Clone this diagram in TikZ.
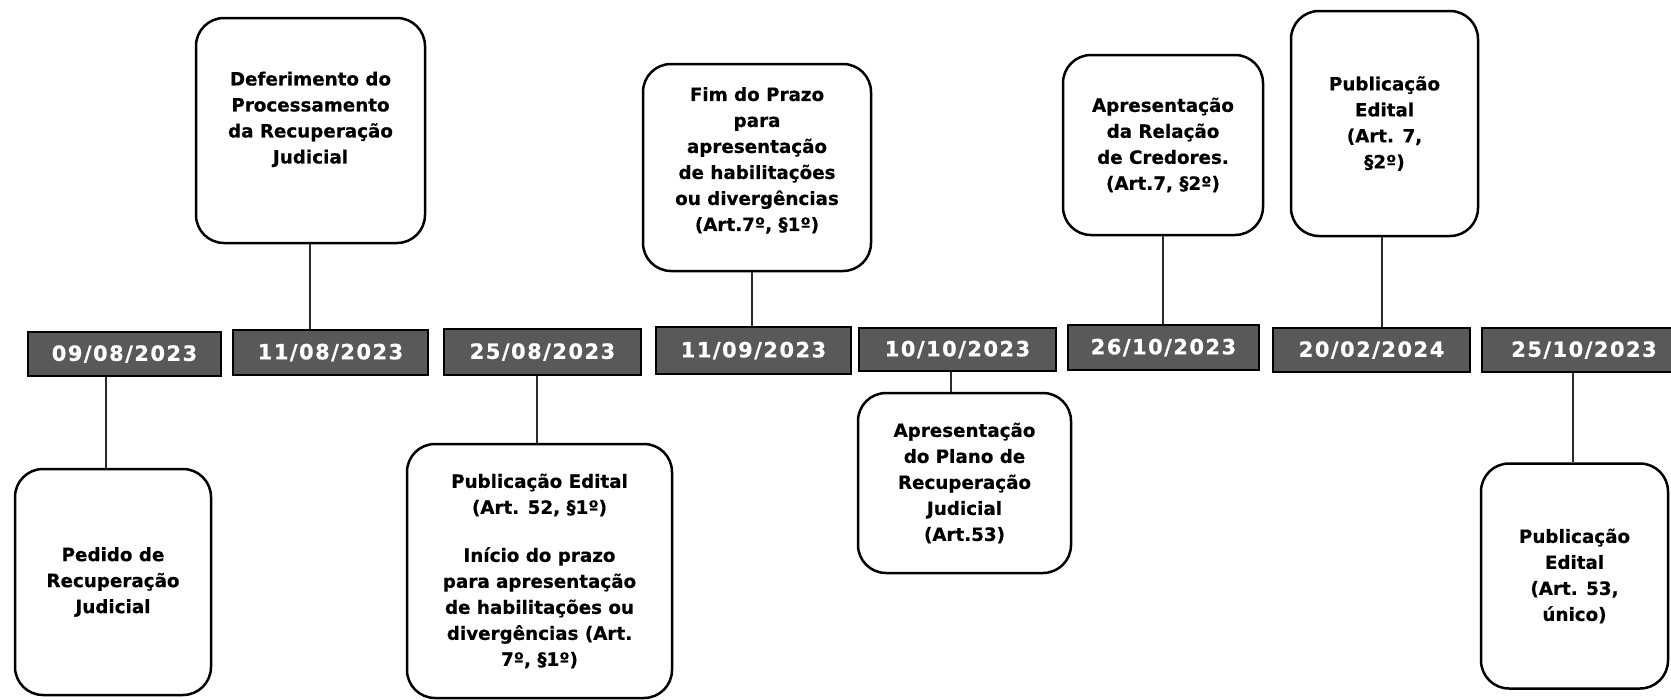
\documentclass[tikz,border=0pt]{standalone}
\usepackage{fontspec}
\setmainfont{DejaVu Sans}[BoldFeatures={FakeBold=0.5}]
\newfontfamily\datefont{DejaVu Sans}[LetterSpace=7,BoldFeatures={FakeBold=0.5}]
\definecolor{dategray}{HTML}{595959}
\definecolor{linegray}{HTML}{2B2B2B}
\begin{document}
\begin{tikzpicture}[x=1pt,y=-1pt,
  datebox/.style={draw=black, line width=2.2pt, fill=dategray, text=white,
    inner sep=0pt, font=\datefont\bfseries\fontsize{21}{25}\selectfont},
  eventbox/.style={draw=black, line width=2.5pt, fill=white, rounded corners=28pt,
    inner sep=0pt, align=center, font=\bfseries\fontsize{18.3}{26}\selectfont},
  conn/.style={draw=linegray, line width=1.3pt}]
\useasboundingbox (0,0) rectangle (1671,699);

% date boxes
\node[datebox, minimum width=193pt, minimum height=44pt] (d1) at (124.5,354) {09/08/2023};
\node[datebox, minimum width=195pt, minimum height=45pt] (d2) at (330.5,352.5) {11/08/2023};
\node[datebox, minimum width=197pt, minimum height=46pt] (d3) at (542.5,352) {25/08/2023};
\node[datebox, minimum width=195pt, minimum height=47pt] (d4) at (753.5,350.5) {11/09/2023};
\node[datebox, minimum width=197pt, minimum height=43pt] (d5) at (957.5,349.5) {10/10/2023};
\node[datebox, minimum width=191pt, minimum height=45pt] (d6) at (1163.5,347.5) {26/10/2023};
\node[datebox, minimum width=197pt, minimum height=44pt] (d7) at (1371.5,350) {20/02/2024};
\node[datebox, minimum width=204pt, minimum height=44pt] (d8) at (1584,350) {25/10/2023};

% event boxes
\node[eventbox, minimum width=196pt, minimum height=226pt] (ped) at (113,582)
  {Pedido de\\Recuperação\\Judicial};
\node[eventbox, minimum width=229pt, minimum height=225pt] (def) at (310.5,130.5)
  {Deferimento do\\Processamento\\da Recuperação\\Judicial\\~};
\node[eventbox, minimum width=265pt, minimum height=254pt] (p25) at (539.5,571)
  {Publicação Edital\\(Art. 52, §1º)\\[22pt]Início do prazo\\para apresentação\\de habilitações ou\\divergências (Art.\\7º, §1º)};
\node[eventbox, minimum width=228pt, minimum height=207pt] (fim) at (757,167.5)
  {Fim do Prazo\\para\\apresentação\\de habilitações\\ou divergências\\(Art.7º, §1º)\\[-9pt]~};
\node[eventbox, minimum width=213pt, minimum height=180pt] (pla) at (964.5,483)
  {Apresentação\\do Plano de\\Recuperação\\Judicial\\(Art.53)};
\node[eventbox, minimum width=200pt, minimum height=180pt] (rel) at (1163,145)
  {Apresentação\\da Relação\\de Credores.\\(Art.7, §2º)};
\node[eventbox, minimum width=187pt, minimum height=225pt] (p7) at (1384.5,123.5)
  {Publicação\\Edital\\(Art. 7,\\§2º)};
\node[eventbox, minimum width=187pt, minimum height=225pt] (p53) at (1574.5,576)
  {Publicação\\Edital\\(Art. 53,\\único)};

% connectors
\draw[conn] (d1.south -| 106,0) -- (ped.north -| 106,0);
\draw[conn] (def.south -| 310,0) -- (d2.north -| 310,0);
\draw[conn] (d3.south -| 537,0) -- (p25.north -| 537,0);
\draw[conn] (fim.south -| 752,0) -- (d4.north -| 752,0);
\draw[conn] (d5.south -| 951,0) -- (pla.north -| 951,0);
\draw[conn] (rel.south -| 1163,0) -- (d6.north -| 1163,0);
\draw[conn] (p7.south -| 1382,0) -- (d7.north -| 1382,0);
\draw[conn] (d8.south -| 1573,0) -- (p53.north -| 1573,0);
\end{tikzpicture}
\end{document}
